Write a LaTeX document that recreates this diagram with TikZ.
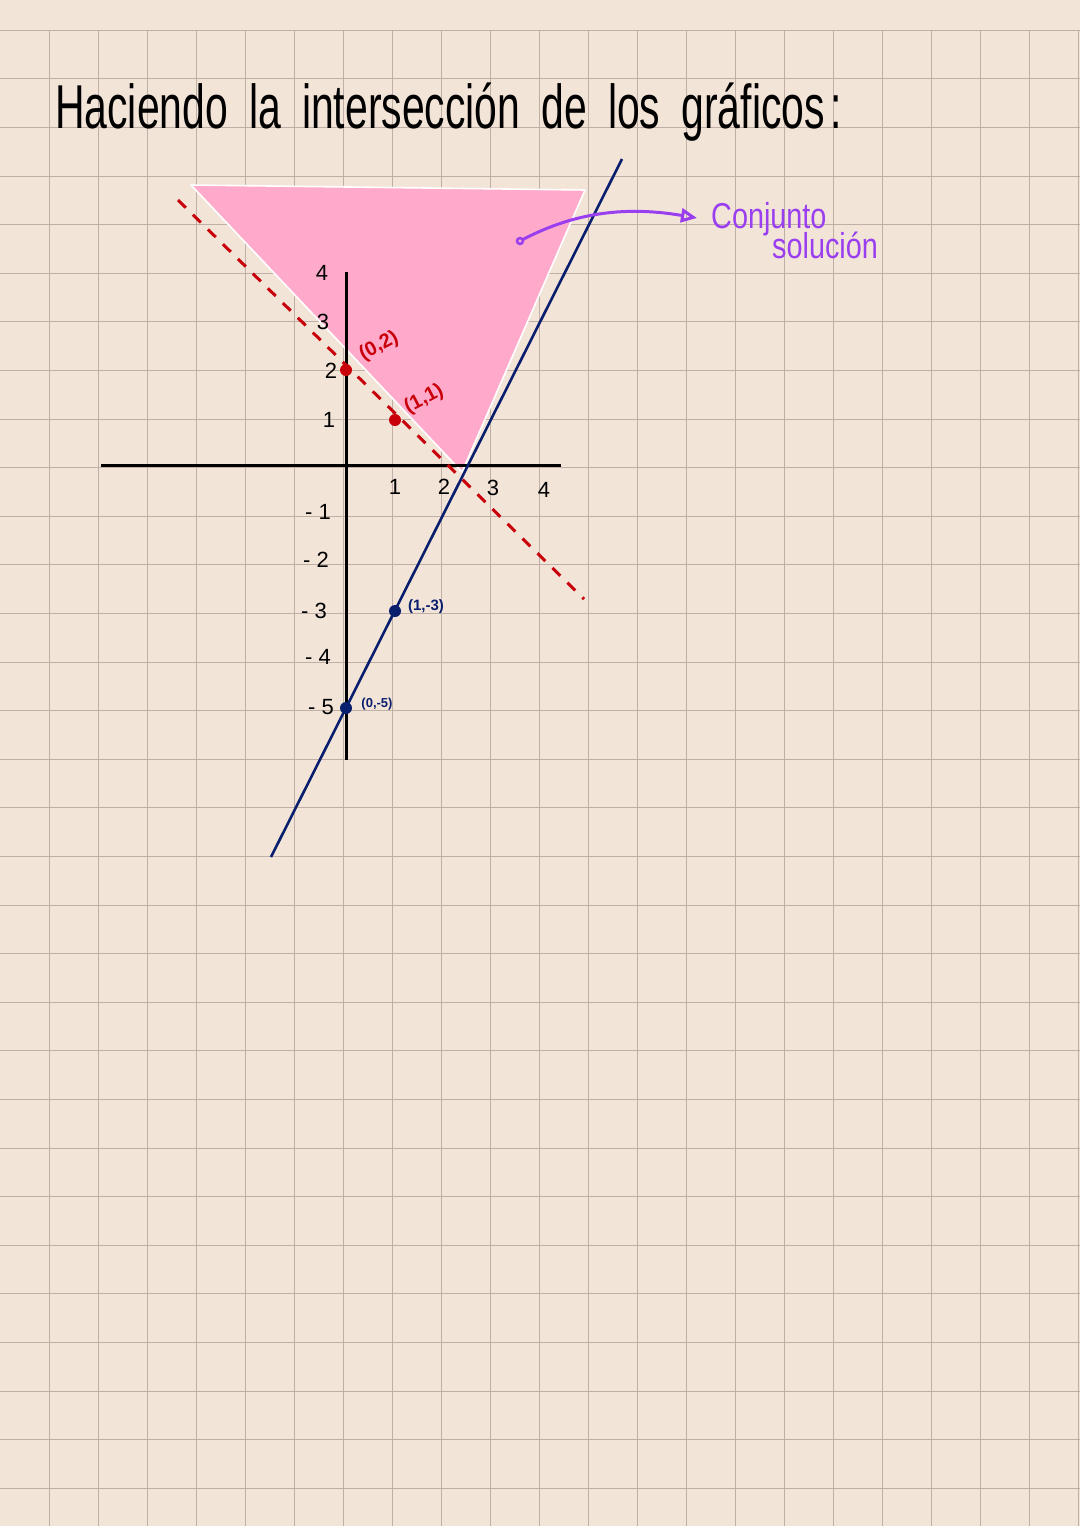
\documentclass[tikz,border=0pt]{standalone}
\usepackage{fontspec}
\setmainfont{Liberation Sans}
\usetikzlibrary{arrows.meta}
\definecolor{paper}{HTML}{F3E4D8}
\definecolor{gridc}{HTML}{BFAFA6}
\definecolor{redl}{HTML}{C8000A}
\definecolor{bluel}{HTML}{0A1E6E}
\definecolor{pinkf}{HTML}{FFAACB}
\definecolor{purp}{HTML}{9A3FF0}
\newcommand{\wsp}{\hspace*{32pt}}
\tikzset{
  gridline/.style={gridc, line width=1pt},
  axisline/.style={black, line width=3pt},
  redline/.style={redl, line width=3pt, dash pattern=on 11pt off 10pt},
  blueline/.style={bluel, line width=2.6pt},
  tick/.style={font=\fontsize{22}{24}\selectfont, inner sep=0pt},
  rdot/.style={circle, fill=redl, minimum size=12pt, inner sep=0pt},
  bdot/.style={circle, fill=bluel, minimum size=12pt, inner sep=0pt},
  plab/.style={inner sep=0pt, font=\fontsize{18}{20}\selectfont\bfseries},
}
\begin{document}
\begin{tikzpicture}[x=1pt,y=-1pt]
\fill[paper] (0,0) rectangle (1080,1526);
\useasboundingbox (0,0) rectangle (1080,1526);
% grid
\foreach \k in {1,...,22} \draw[gridline] (49*\k,30) -- (49*\k,1526);
\foreach \k in {0,...,30} \draw[gridline] (0,30.3+48.6*\k) -- (1080,30.3+48.6*\k);
% title
\node[anchor=base west, inner sep=0pt, font=\fontsize{62}{66}\selectfont] (title) at (55,128)
  {\scalebox{0.66}[1]{Haciendo\wsp la\wsp intersección\wsp de\wsp los\wsp gráficos\hspace*{8pt}:}};
% solution region
\fill[pinkf] (191,185) -- (585,190) -- (462,472) -- cycle;
\draw[white, line width=1.6pt, line join=round] (191,185) -- (585,190) -- (462,472) -- cycle;
% axes
\coordinate (xl) at (101,465); \coordinate (xr) at (561,465);
\coordinate (yt) at (346,272); \coordinate (yb) at (346,760);
\draw[axisline] (xl) -- (xr);
\draw[axisline] (yt) -- (yb);
% lines
\coordinate (r1) at (178,200); \coordinate (r2) at (584,599);
\draw[redline] (r1) -- (r2);
\coordinate (b1) at (271,857); \coordinate (b2) at (622,159);
\draw[blueline] (b1) -- (b2);
% ticks
\node[tick] (y4) at (322,273) {4};
\node[tick] (y3) at (323,322) {3};
\node[tick] (y2) at (331,371) {2};
\node[tick] (y1) at (329,420) {1};
\node[tick] (x1) at (395,487) {1};
\node[tick] (x2) at (444,487) {2};
\node[tick] (x3) at (493,488) {3};
\node[tick] (x4) at (544,490) {4};
\node[tick] (ym1) at (318,512) {- 1};
\node[tick] (ym2) at (316,560) {- 2};
\node[tick] (ym3) at (314,611) {- 3};
\node[tick] (ym4) at (318,657) {- 4};
\node[tick] (ym5) at (321,707) {- 5};
% points
\node[rdot] (p02) at (346,370) {};
\node[rdot] (p11) at (395,420) {};
\node[bdot] (p13) at (395,611) {};
\node[bdot] (p05) at (346,708) {};
\node[plab, text=redl, rotate=28, font=\fontsize{20}{22}\selectfont\bfseries] (l02) at (379,346) {(0,2)};
\node[plab, text=redl, rotate=28, font=\fontsize{20}{22}\selectfont\bfseries] (l11) at (424,399) {(1,1)};
\node[plab, text=bluel, font=\fontsize{15}{17}\selectfont\bfseries] (l13) at (426,607) {(1,-3)};
\node[plab, text=bluel, font=\fontsize{13}{15}\selectfont\bfseries] (l05) at (377,704) {(0,-5)};
% annotation
\node[circle, draw=purp, line width=2.5pt, minimum size=6pt, inner sep=0pt] (adot) at (520,241) {};
\coordinate (atip) at (697,218);
\draw[purp, line width=3pt, line cap=round, -{Triangle[open, length=16pt, width=14pt, line width=3pt]}]
  (adot) .. controls (570,215) and (620,205) .. (atip);
\node[anchor=base west, inner sep=0pt, text=purp, font=\fontsize{36}{40}\selectfont] (conj) at (711,228) {\scalebox{0.8}[1]{Conjunto}};
\node[anchor=base west, inner sep=0pt, text=purp, font=\fontsize{36}{40}\selectfont] (sol) at (772,258) {\scalebox{0.8}[1]{solución}};
\end{tikzpicture}
\end{document}
